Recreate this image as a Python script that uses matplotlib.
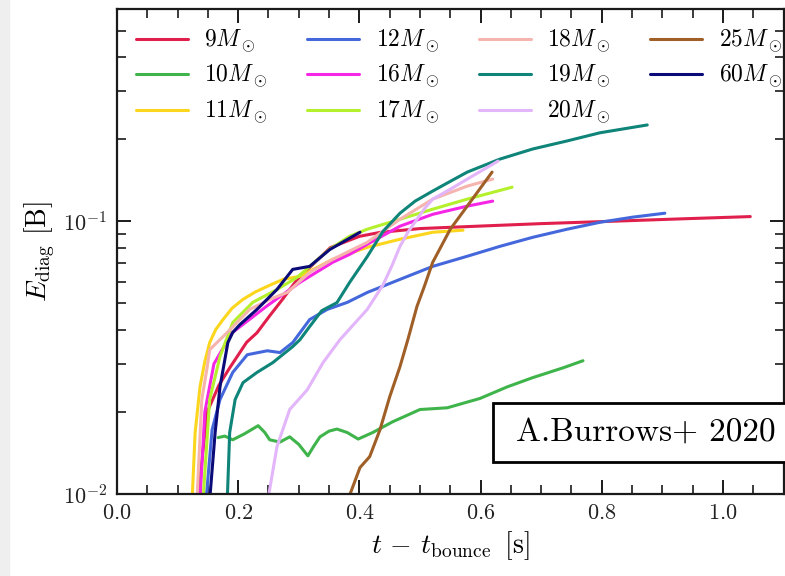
import matplotlib
import matplotlib.pyplot as plt
from matplotlib.patches import Rectangle

matplotlib.use("Agg")

# progenitor masses and colours
MASSES = [9, 10, 11, 12, 16, 17, 18, 19, 20, 25, 60]
COLORS = ["#e01f4c", "#3fb44a", "#fcd61c", "#4468dc", "#f626e6", "#b4f02c",
          "#f6b4ae", "#0f8479", "#e3b5fa", "#9f5f27", "#0a0a78"]

# time after bounce [s] and diagnostic explosion energy [B]
T9 = [0.133, 0.149, 0.168, 0.186, 0.214, 0.231, 0.252, 0.274, 0.297, 0.322,
      0.352, 0.400, 0.434, 0.500, 0.600, 0.700, 0.818, 0.930, 1.045]
E9 = [0.0095, 0.020, 0.025, 0.029, 0.036, 0.039, 0.045, 0.052, 0.061, 0.069,
      0.080, 0.088, 0.091, 0.094, 0.096, 0.098, 0.100, 0.102, 0.104]

T10 = [0.167, 0.178, 0.191, 0.210, 0.233, 0.244, 0.252, 0.269, 0.285, 0.300,
       0.315, 0.325, 0.335, 0.350, 0.363, 0.380, 0.398, 0.422, 0.455, 0.500,
       0.545, 0.599, 0.644, 0.686, 0.736, 0.769]
E10 = [0.0161, 0.0163, 0.0158, 0.0166, 0.0178, 0.0168, 0.0158, 0.0155, 0.0162,
       0.0152, 0.0138, 0.0150, 0.0162, 0.0170, 0.0173, 0.0168, 0.0159, 0.0168,
       0.0184, 0.0204, 0.0207, 0.0224, 0.0247, 0.0267, 0.0290, 0.0308]

T11 = [0.124, 0.129, 0.137, 0.145, 0.153, 0.163, 0.175, 0.190, 0.208, 0.228,
       0.248, 0.274, 0.302, 0.356, 0.413, 0.467, 0.521, 0.571]
E11 = [0.0095, 0.0168, 0.0247, 0.0306, 0.0359, 0.0401, 0.0436, 0.0480, 0.0517,
       0.0550, 0.0577, 0.0612, 0.0628, 0.0725, 0.0802, 0.0859, 0.0911, 0.0927]

T12 = [0.147, 0.157, 0.170, 0.191, 0.215, 0.248, 0.269, 0.290, 0.318, 0.347,
       0.380, 0.413, 0.467, 0.521, 0.578, 0.632, 0.686, 0.743, 0.797, 0.851,
       0.904]
E12 = [0.0095, 0.0172, 0.0222, 0.0279, 0.0324, 0.0335, 0.0330, 0.0359, 0.0436,
       0.0475, 0.0504, 0.0548, 0.0612, 0.0683, 0.0744, 0.0809, 0.0873, 0.0935,
       0.0991, 0.1035, 0.107]

T16 = [0.137, 0.145, 0.160, 0.190, 0.248, 0.302, 0.356, 0.384, 0.413, 0.467,
       0.521, 0.578, 0.620]
E16 = [0.0095, 0.020, 0.030, 0.039, 0.049, 0.0597, 0.0707, 0.0756, 0.0823,
       0.0959, 0.106, 0.1136, 0.1185]

T17 = [0.142, 0.153, 0.170, 0.191, 0.224, 0.264, 0.297, 0.351, 0.384, 0.413,
       0.467, 0.521, 0.578, 0.652]
E17 = [0.0095, 0.0222, 0.0319, 0.0425, 0.0504, 0.0562, 0.0622, 0.079, 0.0881,
       0.0935, 0.1017, 0.1107, 0.1205, 0.1333]

T18 = [0.132, 0.140, 0.149, 0.153, 0.182, 0.219, 0.252, 0.281, 0.318, 0.356,
       0.413, 0.467, 0.521, 0.578, 0.620]
E18 = [0.0095, 0.0222, 0.0293, 0.0338, 0.0391, 0.0475, 0.0517, 0.0548, 0.0649,
       0.0725, 0.0837, 0.1017, 0.1205, 0.1345, 0.1427]

T19 = [0.182, 0.186, 0.195, 0.208, 0.231, 0.257, 0.290, 0.302, 0.318, 0.338,
       0.363, 0.384, 0.413, 0.439, 0.467, 0.492, 0.521, 0.550, 0.578, 0.632,
       0.686, 0.743, 0.797, 0.875]
E19 = [0.0095, 0.0168, 0.0222, 0.0256, 0.0279, 0.0303, 0.0347, 0.0368, 0.0411,
       0.0470, 0.0503, 0.0597, 0.0742, 0.0918, 0.107, 0.1185, 0.129, 0.140,
       0.1514, 0.169, 0.184, 0.197, 0.211, 0.2254]

T20 = [0.249, 0.264, 0.285, 0.314, 0.340, 0.368, 0.413, 0.439, 0.454, 0.467,
       0.480, 0.495, 0.508, 0.521, 0.550, 0.578, 0.629]
E20 = [0.0095, 0.0149, 0.0204, 0.0241, 0.0303, 0.0368, 0.0475, 0.0584, 0.0689,
       0.0809, 0.0911, 0.1017, 0.1116, 0.1205, 0.131, 0.1427, 0.1662]

T25 = [0.381, 0.401, 0.417, 0.434, 0.450, 0.467, 0.480, 0.495, 0.507, 0.521,
       0.550, 0.578, 0.619]
E25 = [0.0095, 0.0125, 0.0137, 0.0172, 0.0227, 0.0293, 0.0368, 0.0487, 0.0575,
       0.0707, 0.0935, 0.1136, 0.1514]

T60 = [0.153, 0.162, 0.170, 0.183, 0.191, 0.203, 0.231, 0.264, 0.290, 0.318,
       0.351, 0.401]
E60 = [0.0095, 0.0168, 0.0247, 0.0359, 0.0391, 0.0418, 0.0475, 0.0562, 0.0666,
       0.0683, 0.0787, 0.0911]

TIMES = [T9, T10, T11, T12, T16, T17, T18, T19, T20, T25, T60]
ENERGIES = [E9, E10, E11, E12, E16, E17, E18, E19, E20, E25, E60]

plt.rcParams["font.family"] = "serif"
plt.rcParams["font.serif"] = ["cmr10"]
plt.rcParams["mathtext.fontset"] = "cm"
plt.rcParams["axes.formatter.use_mathtext"] = True


def style_axes(ax):
    for spine in ax.spines.values():
        spine.set_linewidth(1.6)
        spine.set_color("#1a1a1a")
    ax.tick_params(which="both", direction="in", top=True, right=True,
                   colors="#1a1a1a", labelcolor="#222222", labelsize=16)
    ax.tick_params(which="major", length=10, width=1.4, pad=7)
    ax.tick_params(which="minor", length=6.5, width=1.2)


def render_plot():
    fig = plt.figure(figsize=(7.85, 5.76), dpi=100)
    fig.patches.append(Rectangle((0, 0), 9 / 785, 1, transform=fig.transFigure,
                                 color="#efefef", zorder=0))
    ax = fig.add_axes([0.149, 0.1424, 0.8492, 0.842])

    for mass, color, t, e in zip(MASSES, COLORS, TIMES, ENERGIES):
        ax.plot(t, e, color=color, linewidth=2.2, solid_joinstyle="round",
                solid_capstyle="round", label=r"$%d M_\odot$" % mass)

    ax.set_yscale("log")
    ax.set_xlim(0, 1.1)
    ax.set_ylim(0.01, 0.6)
    ax.set_xticks([0.0, 0.2, 0.4, 0.6, 0.8, 1.0])
    ax.set_xticks([i * 0.05 for i in range(23)], minor=True)
    ax.set_xlabel(r"$t\,-\,t_\mathrm{bounce}\,$ [s]", fontsize=20, labelpad=4)
    ax.set_ylabel(r"$E_\mathrm{diag}$ [B]", fontsize=20, labelpad=4)
    style_axes(ax)

    ax.legend(loc="upper left", ncol=4, frameon=False, fontsize=17,
              handlelength=2.2, handletextpad=0.7, columnspacing=1.68,
              labelspacing=0.35, borderaxespad=0.4, borderpad=0.4)

    ax.add_patch(Rectangle((0.564, 0.066), 0.44, 0.122, transform=ax.transAxes,
                           facecolor="white", edgecolor="black", linewidth=2,
                           clip_on=False, zorder=5))
    ax.text(0.793, 0.127, "A.Burrows+ 2020", transform=ax.transAxes,
            ha="center", va="center", fontsize=24, zorder=6)

    fig.savefig("out.png", dpi=100)
    plt.close(fig)


def main():
    render_plot()


if __name__ == "__main__":
    main()
